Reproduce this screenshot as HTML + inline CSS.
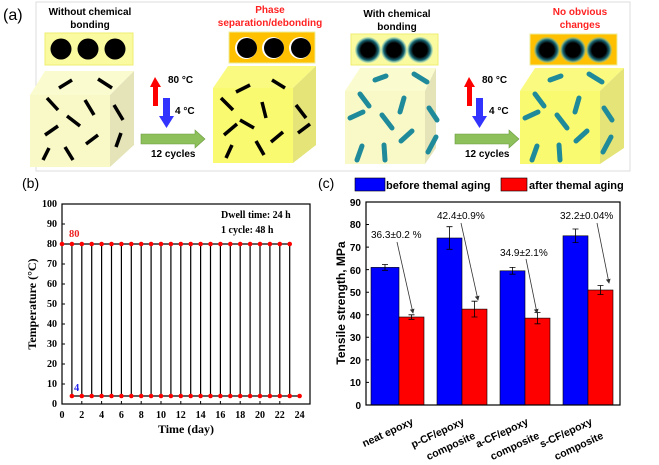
<!DOCTYPE html>
<html><head><meta charset="utf-8"><style>
body{margin:0;background:#fff;}
svg{display:block;font-family:"Liberation Sans",sans-serif;}
.s{font-family:"Liberation Serif",serif;font-weight:bold;}
</style></head><body>
<svg width="659" height="465" viewBox="0 0 659 465" xmlns="http://www.w3.org/2000/svg">
<defs>
<radialGradient id="cg"><stop offset="0.55" stop-color="#000"/><stop offset="0.8" stop-color="#1a6a78"/><stop offset="1" stop-color="#7cc" stop-opacity="0.3"/></radialGradient>
<marker id="ah" markerWidth="6" markerHeight="6" refX="5" refY="3" orient="auto"><path d="M0,0 L6,3 L0,6z" fill="#333"/></marker>
</defs>
<path d="M36,2 H630 V171 H36 Z" fill="none" stroke="#ddd" stroke-width="1"/>
<text x="3" y="20" font-size="16">(a)</text>

<g>
<text x="90" y="15" font-size="10" font-weight="bold" text-anchor="middle">Without chemical</text>
<text x="90" y="28" font-size="10" font-weight="bold" text-anchor="middle">bonding</text>
<rect x="45" y="33" width="88" height="32" fill="#fafaa0" stroke="#eeee70"/>
<circle cx="61" cy="49" r="10.5"/><circle cx="88" cy="49" r="10.5"/><circle cx="115" cy="49" r="10.5"/>
<polygon points="30,95 45,71 134,71 110,95" fill="#fbfbd0"/>
<polygon points="110,95 134,71 134,145 110,167" fill="#e4e4b8"/>
<rect x="30" y="95" width="80" height="72" fill="#f9f9c8"/>
<g stroke="#000" stroke-width="3.5">
<line x1="59" y1="88" x2="72" y2="80"/><line x1="98" y1="79" x2="112" y2="88"/>
<line x1="47" y1="98" x2="58" y2="110"/><line x1="85" y1="100" x2="94" y2="115"/>
<line x1="67" y1="116" x2="80" y2="126"/><line x1="45" y1="135" x2="58" y2="126"/>
<line x1="86" y1="144" x2="98" y2="135"/><line x1="43" y1="160" x2="49" y2="148"/>
<line x1="65" y1="147" x2="73" y2="160"/><line x1="114" y1="105" x2="123" y2="120"/>
<line x1="116" y1="147" x2="121" y2="133"/>
</g>
</g>
<polygon points="150,87 155,77 161,87 158,87 158,106 153,106 153,87" fill="#f00"/>
<polygon points="163,98 170,98 170,116 174,116 166.5,128 159,116 163,116" fill="#33f"/>
<text x="168" y="83" font-size="10" font-weight="bold">80 °C</text>
<text x="175" y="114" font-size="10" font-weight="bold">4 °C</text>
<polygon points="141,134 195,134 195,130 205,139 195,148 195,144 141,144" fill="#8dc05a" stroke="#6a9a40" stroke-width="0.6"/>
<text x="151" y="157" font-size="10" font-weight="bold">12 cycles</text>

<text x="270" y="13" font-size="10" font-weight="bold" fill="#f22" text-anchor="middle">Phase</text>
<text x="270" y="26" font-size="10" font-weight="bold" fill="#f22" text-anchor="middle">separation/debonding</text>
<rect x="229" y="32" width="86" height="31" fill="#ffc000" stroke="#ee9"/>
<circle cx="246" cy="48" r="11" fill="#fff"/><circle cx="247" cy="48" r="10"/>
<circle cx="273" cy="48" r="11" fill="#fff"/><circle cx="274" cy="48" r="10"/>
<circle cx="300" cy="48" r="11" fill="#fff"/><circle cx="301" cy="48" r="10"/>
<polygon points="213,88 228,66 316,66 293,88" fill="#fafa80"/>
<polygon points="293,88 316,66 316,145 293,163" fill="#e4e478"/>
<rect x="213" y="88" width="80" height="75" fill="#fafa70"/>
<g stroke="#000" stroke-width="3.5">
<line x1="236" y1="92" x2="250" y2="85"/><line x1="272" y1="80" x2="285" y2="88"/>
<line x1="221" y1="98" x2="233" y2="110"/><line x1="262" y1="102" x2="266" y2="118"/>
<line x1="240" y1="120" x2="254" y2="128"/><line x1="224" y1="135" x2="237" y2="124"/>
<line x1="271" y1="142" x2="283" y2="132"/><line x1="226" y1="158" x2="232" y2="145"/>
<line x1="256" y1="141" x2="264" y2="155"/><line x1="296" y1="105" x2="306" y2="118"/>
<line x1="298" y1="133" x2="310" y2="124"/>
</g>

<text x="397" y="17" font-size="10" font-weight="bold" text-anchor="middle">With chemical</text>
<text x="397" y="30" font-size="10" font-weight="bold" text-anchor="middle">bonding</text>
<rect x="351" y="34" width="87" height="31" fill="#fafaa0" stroke="#eeee70"/>
<circle cx="368" cy="50" r="13" fill="url(#cg)"/><circle cx="394" cy="50" r="13" fill="url(#cg)"/><circle cx="420" cy="50" r="13" fill="url(#cg)"/>
<polygon points="345,91 360,68 436,68 425,91" fill="#fbfbd0"/>
<polygon points="425,91 436,68 436,148 425,164" fill="#e4e4b8"/>
<rect x="345" y="91" width="80" height="73" fill="#f9f9c8"/>
<g stroke="#1f8a9a" stroke-width="5" stroke-linecap="round">
<line x1="375" y1="80" x2="386" y2="76"/><line x1="414" y1="74" x2="427" y2="82"/>
<line x1="360" y1="94" x2="369" y2="106"/><line x1="404" y1="98" x2="400" y2="112"/>
<line x1="350" y1="118" x2="363" y2="112"/><line x1="382" y1="115" x2="392" y2="128"/>
<line x1="401" y1="141" x2="412" y2="131"/><line x1="357" y1="160" x2="362" y2="146"/>
<line x1="384" y1="145" x2="385" y2="160"/><line x1="429" y1="108" x2="437" y2="120"/>
<line x1="428" y1="152" x2="436" y2="137"/>
</g>
<polygon points="464,87 469,77 475,87 472,87 472,106 467,106 467,87" fill="#f00"/>
<polygon points="476,98 483,98 483,116 487,116 479.5,128 472,116 476,116" fill="#33f"/>
<text x="482" y="83" font-size="10" font-weight="bold">80 °C</text>
<text x="489" y="114" font-size="10" font-weight="bold">4 °C</text>
<polygon points="455,134 509,134 509,130 519,139 509,148 509,144 455,144" fill="#8dc05a" stroke="#6a9a40" stroke-width="0.6"/>
<text x="465" y="157" font-size="10" font-weight="bold">12 cycles</text>

<text x="580" y="15" font-size="10" font-weight="bold" fill="#f22" text-anchor="middle">No obvious</text>
<text x="580" y="28" font-size="10" font-weight="bold" fill="#f22" text-anchor="middle">changes</text>
<rect x="530" y="34" width="87" height="31" fill="#ffc000" stroke="#ee9"/>
<circle cx="547" cy="50" r="13" fill="url(#cg)"/><circle cx="573" cy="50" r="13" fill="url(#cg)"/><circle cx="599" cy="50" r="13" fill="url(#cg)"/>
<polygon points="520,91 535,68 624,68 600,91" fill="#fafa80"/>
<polygon points="600,91 624,68 624,148 600,164" fill="#e4e478"/>
<rect x="520" y="91" width="80" height="73" fill="#fafa70"/>
<g stroke="#1f8a9a" stroke-width="5" stroke-linecap="round">
<line x1="550" y1="80" x2="561" y2="76"/><line x1="589" y1="74" x2="602" y2="82"/>
<line x1="535" y1="94" x2="544" y2="106"/><line x1="579" y1="98" x2="575" y2="112"/>
<line x1="525" y1="118" x2="538" y2="112"/><line x1="557" y1="115" x2="567" y2="128"/>
<line x1="576" y1="141" x2="587" y2="131"/><line x1="532" y1="160" x2="537" y2="146"/>
<line x1="559" y1="145" x2="560" y2="160"/><line x1="604" y1="108" x2="612" y2="120"/>
<line x1="603" y1="152" x2="611" y2="137"/>
</g>

<!-- (b) -->
<text x="22" y="188" font-size="14">(b)</text>
<g class="s" font-size="10">
<rect x="62" y="204" width="248" height="200" fill="none" stroke="#000" stroke-width="1.2"/>
<g text-anchor="end">
<text x="57" y="407">0</text><text x="57" y="387">10</text><text x="57" y="367">20</text><text x="57" y="347">30</text><text x="57" y="327">40</text><text x="57" y="307">50</text><text x="57" y="287">60</text><text x="57" y="267">70</text><text x="57" y="247">80</text><text x="57" y="227">90</text><text x="57" y="207">100</text>
</g>
<g stroke="#000" stroke-width="1">
<path d="M62,384h3M62,364h3M62,344h3M62,324h3M62,304h3M62,284h3M62,264h3M62,244h3M62,224h3"/>
<path d="M81.8,404v-3M101.6,404v-3M121.4,404v-3M141.2,404v-3M161,404v-3M180.8,404v-3M200.6,404v-3M220.4,404v-3M240.2,404v-3M260,404v-3M279.8,404v-3"/>
</g>
<g text-anchor="middle">
<text x="62" y="418">0</text><text x="81.8" y="418">2</text><text x="101.6" y="418">4</text><text x="121.4" y="418">6</text><text x="141.2" y="418">8</text><text x="161" y="418">10</text><text x="180.8" y="418">12</text><text x="200.6" y="418">14</text><text x="220.4" y="418">16</text><text x="240.2" y="418">18</text><text x="260" y="418">20</text><text x="279.8" y="418">22</text><text x="299.6" y="418">24</text>
</g>
<text x="186" y="433" font-size="12" text-anchor="middle">Time (day)</text>
<text transform="translate(36,304) rotate(-90)" font-size="12" text-anchor="middle">Temperature (°C)</text>
<text x="221" y="218" font-size="10">Dwell time: 24 h</text>
<text x="221" y="233" font-size="10">1 cycle: 48 h</text>
<text x="69" y="237" font-size="10.5" fill="#e22">80</text>
<text x="74" y="391" font-size="10.5" fill="#22e">4</text>
</g>
<g stroke="#000" stroke-width="1.2">
<line x1="62" y1="244" x2="290" y2="244"/>
<line x1="72" y1="396" x2="300" y2="396"/>
<path d="M71.9,244V396M81.8,244V396M91.7,244V396M101.6,244V396M111.5,244V396M121.4,244V396M131.3,244V396M141.2,244V396M151.1,244V396M161,244V396M170.9,244V396M180.8,244V396M190.7,244V396M200.6,244V396M210.5,244V396M220.4,244V396M230.3,244V396M240.2,244V396M250.1,244V396M260,244V396M269.9,244V396M279.8,244V396M289.7,244V396"/>
</g>
<g fill="#f00">
<circle cx="62" cy="244" r="2.3"/><circle cx="71.9" cy="244" r="2.3"/><circle cx="81.8" cy="244" r="2.3"/><circle cx="91.7" cy="244" r="2.3"/><circle cx="101.6" cy="244" r="2.3"/><circle cx="111.5" cy="244" r="2.3"/><circle cx="121.4" cy="244" r="2.3"/><circle cx="131.3" cy="244" r="2.3"/><circle cx="141.2" cy="244" r="2.3"/><circle cx="151.1" cy="244" r="2.3"/><circle cx="161" cy="244" r="2.3"/><circle cx="170.9" cy="244" r="2.3"/><circle cx="180.8" cy="244" r="2.3"/><circle cx="190.7" cy="244" r="2.3"/><circle cx="200.6" cy="244" r="2.3"/><circle cx="210.5" cy="244" r="2.3"/><circle cx="220.4" cy="244" r="2.3"/><circle cx="230.3" cy="244" r="2.3"/><circle cx="240.2" cy="244" r="2.3"/><circle cx="250.1" cy="244" r="2.3"/><circle cx="260" cy="244" r="2.3"/><circle cx="269.9" cy="244" r="2.3"/><circle cx="279.8" cy="244" r="2.3"/><circle cx="289.7" cy="244" r="2.3"/>
<circle cx="71.9" cy="396" r="2.3"/><circle cx="81.8" cy="396" r="2.3"/><circle cx="91.7" cy="396" r="2.3"/><circle cx="101.6" cy="396" r="2.3"/><circle cx="111.5" cy="396" r="2.3"/><circle cx="121.4" cy="396" r="2.3"/><circle cx="131.3" cy="396" r="2.3"/><circle cx="141.2" cy="396" r="2.3"/><circle cx="151.1" cy="396" r="2.3"/><circle cx="161" cy="396" r="2.3"/><circle cx="170.9" cy="396" r="2.3"/><circle cx="180.8" cy="396" r="2.3"/><circle cx="190.7" cy="396" r="2.3"/><circle cx="200.6" cy="396" r="2.3"/><circle cx="210.5" cy="396" r="2.3"/><circle cx="220.4" cy="396" r="2.3"/><circle cx="230.3" cy="396" r="2.3"/><circle cx="240.2" cy="396" r="2.3"/><circle cx="250.1" cy="396" r="2.3"/><circle cx="260" cy="396" r="2.3"/><circle cx="269.9" cy="396" r="2.3"/><circle cx="279.8" cy="396" r="2.3"/><circle cx="289.7" cy="396" r="2.3"/><circle cx="299.6" cy="396" r="2.3"/>
</g>

<!-- (c) -->
<text x="318" y="188" font-size="14">(c)</text>
<rect x="355" y="178" width="30" height="13" fill="#00f" stroke="#000" stroke-width="0.6"/>
<text x="386" y="189" font-size="11" font-weight="bold">before themal aging</text>
<rect x="501" y="178" width="26" height="13" fill="#f00" stroke="#000" stroke-width="0.6"/>
<text x="529" y="189" font-size="11" font-weight="bold">after themal aging</text>
<g stroke="#000" stroke-width="0.6">
<rect x="371" y="267.4" width="28" height="137.6" fill="#00f"/>
<rect x="399" y="317" width="25" height="88" fill="#f00"/>
<rect x="437" y="238" width="25" height="167" fill="#00f"/>
<rect x="462" y="309.1" width="25" height="95.9" fill="#f00"/>
<rect x="500" y="270.8" width="25" height="134.2" fill="#00f"/>
<rect x="525" y="318.1" width="25" height="86.9" fill="#f00"/>
<rect x="563" y="235.8" width="25" height="169.2" fill="#00f"/>
<rect x="588" y="290" width="25" height="115" fill="#f00"/>
</g>
<g stroke="#000" stroke-width="0.8">
<path d="M385,264.5v5.8M382,264.5h6M382,270.3h6"/>
<path d="M411.5,314.8v4.5M408.5,314.8h6M408.5,319.3h6"/>
<path d="M449.5,226.7v22.6M446.5,226.7h6M446.5,249.3h6"/>
<path d="M474.5,301.2v15.8M471.5,301.2h6M471.5,317h6"/>
<path d="M512.5,267.4v6.8M509.5,267.4h6M509.5,274.2h6"/>
<path d="M537.5,312.5v11.3M534.5,312.5h6M534.5,323.8h6"/>
<path d="M575.5,229v13.6M572.5,229h6M572.5,242.6h6"/>
<path d="M600.5,285.5v9M597.5,285.5h6M597.5,294.5h6"/>
</g>
<rect x="366" y="202" width="254" height="203" fill="none" stroke="#000" stroke-width="1.2"/>
<g font-size="10" font-weight="bold" text-anchor="end">
<text x="361" y="409">0</text><text x="361" y="386">10</text><text x="361" y="364">20</text><text x="361" y="341">30</text><text x="361" y="319">40</text><text x="361" y="296">50</text><text x="361" y="274">60</text><text x="361" y="251">70</text><text x="361" y="228">80</text><text x="361" y="206">90</text>
</g>
<path d="M366,382.4h3M366,359.9h3M366,337.3h3M366,314.8h3M366,292.2h3M366,269.6h3M366,247.1h3M366,224.5h3" stroke="#000"/>
<text transform="translate(345,303) rotate(-90)" font-size="12" font-weight="bold" text-anchor="middle">Tensile strength, MPa</text>
<g font-size="10">
<text x="371" y="238">36.3±0.2 %</text>
<text x="437" y="219">42.4±0.9%</text>
<text x="500" y="256">34.9±2.1%</text>
<text x="560" y="219">32.2±0.04%</text>
</g>
<g stroke="#333" stroke-width="0.8" marker-end="url(#ah)">
<line x1="397" y1="242" x2="413" y2="313"/>
<line x1="461" y1="223" x2="478" y2="300"/>
<line x1="526" y1="259" x2="537" y2="313"/>
<line x1="597" y1="223" x2="609" y2="283"/>
</g>
<g font-size="10.5" font-weight="bold" text-anchor="end">
<text transform="translate(414,424) rotate(-25)">neat epoxy</text>
<text transform="translate(465,424) rotate(-25)">p-CF/epoxy</text>
<text transform="translate(476,438) rotate(-25)">composite</text>
<text transform="translate(529,424) rotate(-25)">a-CF/epoxy</text>
<text transform="translate(540,438) rotate(-25)">composite</text>
<text transform="translate(593,424) rotate(-25)">s-CF/epoxy</text>
<text transform="translate(604,438) rotate(-25)">composite</text>
</g>
</svg>
</body></html>
